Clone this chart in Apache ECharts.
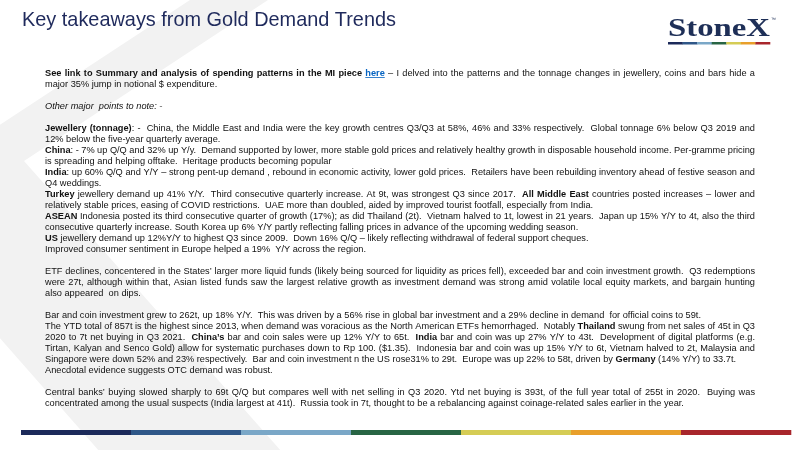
<!DOCTYPE html>
<html>
<head>
<meta charset="utf-8">
<script src="https://cdn.jsdelivr.net/npm/echarts@6/dist/echarts.min.js"></script>
<style>
html, body { margin: 0; padding: 0; background: #fff; }
#main { width: 800px; height: 450px; }
</style>
</head>
<body>
<div id="main"></div>
<script>
// slide content: 'j' = justified line, '' = ragged line
// markup: **bold**, *italic*, [link]
var titleText = 'Key takeaways from Gold Demand Trends';
var logoText = 'StoneX';
var stripeColors = ['#1c2a5a', '#2f5788', '#7aa7c7', '#286544', '#d5cc55', '#e89f2b', '#a8262c'];

var introLines = [
  ['j', '**See link to Summary and analysis of spending patterns in the MI piece** [here] – I delved into the patterns and the tonnage changes in jewellery, coins and bars hide a'],
  ['', 'major 35% jump in notional $ expenditure.']
];
var notesLines = [
  ['', '*Other major  points to note: -*']
];
var jewelleryLines = [
  ['j', '**Jewellery (tonnage)**: -  China, the Middle East and India were the key growth centres Q3/Q3 at 58%, 46% and 33% respectively.  Global tonnage 6% below Q3 2019 and'],
  ['', '12% below the five-year quarterly average.'],
  ['j', '**China**: - 7% up Q/Q and 32% up Y/y.  Demand supported by lower, more stable gold prices and relatively healthy growth in disposable household income. Per-gramme pricing'],
  ['', 'is spreading and helping offtake.  Heritage products becoming popular'],
  ['j', '**India**: up 60% Q/Q and Y/Y – strong pent-up demand , rebound in economic activity, lower gold prices.  Retailers have been rebuilding inventory ahead of festive season and'],
  ['', 'Q4 weddings.'],
  ['j', '**Turkey** jewellery demand up 41% Y/Y.  Third consecutive quarterly increase. At 9t, was strongest Q3 since 2017.  **All Middle East** countries posted increases – lower and'],
  ['', 'relatively stable prices, easing of COVID restrictions.  UAE more than doubled, aided by improved tourist footfall, especially from India.'],
  ['j', '**ASEAN** Indonesia posted its third consecutive quarter of growth (17%); as did Thailand (2t).  Vietnam halved to 1t, lowest in 21 years.  Japan up 15% Y/Y to 4t, also the third'],
  ['', 'consecutive quarterly increase. South Korea up 6% Y/Y partly reflecting falling prices in advance of the upcoming wedding season.'],
  ['', '**US** jewellery demand up 12%Y/Y to highest Q3 since 2009.  Down 16% Q/Q – likely reflecting withdrawal of federal support cheques.'],
  ['', 'Improved consumer sentiment in Europe helped a 19%  Y/Y across the region.']
];
var etfLines = [
  ['j', 'ETF declines, concentered in the States’ larger more liquid funds (likely being sourced for liquidity as prices fell), exceeded bar and coin investment growth.  Q3 redemptions'],
  ['j', 'were 27t, although within that, Asian listed funds saw the largest relative growth as investment demand was strong amid volatile local equity markets, and bargain hunting'],
  ['', 'also appeared  on dips.']
];
var barCoinLines = [
  ['', 'Bar and coin investment grew to 262t, up 18% Y/Y.  This was driven by a 56% rise in global bar investment and a 29% decline in demand  for official coins to 59t.'],
  ['j', 'The YTD total of 857t is the highest since 2013, when demand was voracious as the North American ETFs hemorrhaged.  Notably **Thailand** swung from net sales of 45t in Q3'],
  ['j', '2020 to 7t net buying in Q3 2021.  **China’s** bar and coin sales were up 12% Y/Y to 65t.  **India** bar and coin was up 27% Y/Y to 43t.  Development of digital platforms (e.g.'],
  ['j', 'Tirtan, Kalyan and Senco Gold) allow for systematic purchases down to Rp 100. ($1.35).  Indonesia bar and coin was up 15% Y/Y to 6t, Vietnam halved to 2t, Malaysia and'],
  ['', 'Singapore were down 52% and 23% respectively.  Bar and coin investment n the US rose31% to 29t.  Europe was up 22% to 58t, driven by **Germany** (14% Y/Y) to 33.7t.'],
  ['', 'Anecdotal evidence suggests OTC demand was robust.']
];
var centralBankLines = [
  ['j', 'Central banks’ buying slowed sharply to 69t Q/Q but compares well with net selling in Q3 2020. Ytd net buying is 393t, of the full year total of 255t in 2020.  Buying was'],
  ['', 'concentrated among the usual suspects (India largest at 41t).  Russia took in 7t, thought to be a rebalancing against coinage-related sales earlier in the year.']
];
var paragraphs = [introLines, notesLines, jewelleryLines, etfLines, barCoinLines, centralBankLines];

var LEFT = 45, RIGHT = 755, TOP = 73, LINE = 11, FS = 9.3;
var TEXT = '#111111', LINK = '#0563c1', NAVY = '#1f2a5c';
var SANS = '"Liberation Sans", Arial, sans-serif';

var ctx = document.createElement('canvas').getContext('2d');
function fontFor(st) {
  return (st === 'i' ? 'italic ' : '') + (st === 'b' || st === 'a' ? 'bold ' : '') + FS + 'px ' + SANS;
}
function measure(t, font) {
  ctx.font = font;
  return ctx.measureText(t).width;
}
function parse(markup) {
  var out = [];
  markup.split(/(\*\*.+?\*\*|\*.+?\*|\[.+?\])/).forEach(function (p) {
    if (!p) return;
    if (p.indexOf('**') === 0) out.push({ t: p.slice(2, -2), st: 'b' });
    else if (p.charAt(0) === '*') out.push({ t: p.slice(1, -1), st: 'i' });
    else if (p.charAt(0) === '[') out.push({ t: p.slice(1, -1), st: 'a' });
    else out.push({ t: p, st: '' });
  });
  return out;
}
function tokenize(markup) {
  var toks = [];
  parse(markup).forEach(function (seg) {
    seg.t.split(/( +)/).forEach(function (w) {
      if (!w) return;
      var f = fontFor(seg.st);
      toks.push({ t: w, st: seg.st, sp: w.charAt(0) === ' ', font: f, w: measure(w, f) });
    });
  });
  while (toks.length && toks[toks.length - 1].sp) toks.pop();
  return toks;
}
function naturalWidth(toks) {
  return toks.reduce(function (s, k) { return s + k.w; }, 0);
}

// horizontal condensing so a ragged reference line ends where it does on the slide
var K = (701 - LEFT) / naturalWidth(tokenize(barCoinLines[0][1]));

var elements = [];

// faint chevron in the background
elements.push({
  type: 'polygon', silent: true, z: 0,
  shape: { points: [[190, 0], [268, 0], [24, 161], [282, 452], [100, 452], [-119, 203]] },
  style: { fill: '#f2f2f2' }
});

// title
var titleFont = '21px ' + SANS;
elements.push({
  type: 'text', silent: true, z: 2, x: 22, y: 20,
  scaleX: 374 / measure(titleText, titleFont),
  style: { text: titleText, font: titleFont, fill: NAVY, verticalAlign: 'middle', textVerticalAlign: 'middle' }
});

// logo
var logoFont = 'bold 26px "Liberation Serif", "Times New Roman", serif';
elements.push({
  type: 'text', silent: true, z: 2, x: 668, y: 29,
  scaleX: 102 / measure(logoText, logoFont),
  style: { text: logoText, font: logoFont, fill: '#1e2f57', verticalAlign: 'middle', textVerticalAlign: 'middle' }
});
elements.push({
  type: 'text', silent: true, z: 2, x: 771, y: 20,
  style: { text: '™', font: '5px ' + SANS, fill: '#1e2f57', verticalAlign: 'middle', textVerticalAlign: 'middle' }
});
stripeColors.forEach(function (c, i) {
  elements.push({ type: 'rect', silent: true, z: 2, shape: { x: 668 + i * 102 / 7, y: 42, width: 102 / 7 + 0.3, height: 2.5 }, style: { fill: c } });
  elements.push({ type: 'rect', silent: true, z: 2, shape: { x: 21 + i * 110, y: 430, width: 110.3, height: 5 }, style: { fill: c } });
});

// body text, word by word so justified lines can be stretched
var row = 0;
paragraphs.forEach(function (para) {
  para.forEach(function (line) {
    var toks = tokenize(line[1]);
    var y = TOP + row * LINE;
    var extra = 0;
    if (line[0] === 'j') {
      var nsp = 0;
      toks.forEach(function (k) { if (k.sp) nsp += k.t.length; });
      extra = nsp ? (RIGHT - LEFT - naturalWidth(toks) * K) / nsp : 0;
    }
    var x = LEFT;
    toks.forEach(function (k) {
      if (k.sp) { x += k.w * K + extra * k.t.length; return; }
      var fill = k.st === 'a' ? LINK : TEXT;
      elements.push({
        type: 'text', silent: true, z: 2, x: x, y: y, scaleX: K,
        style: { text: k.t, font: k.font, fill: fill, verticalAlign: 'middle', textVerticalAlign: 'middle' }
      });
      if (k.st === 'a') {
        elements.push({
          type: 'line', silent: true, z: 2,
          shape: { x1: x, y1: y + 4.5, x2: x + k.w * K, y2: y + 4.5 },
          style: { stroke: LINK, lineWidth: 0.8 }
        });
      }
      x += k.w * K;
    });
    row++;
  });
  row++;
});

var chart = echarts.init(document.getElementById('main'));
chart.setOption({
  animation: false,
  graphic: { elements: elements }
});
</script>
</body>
</html>
